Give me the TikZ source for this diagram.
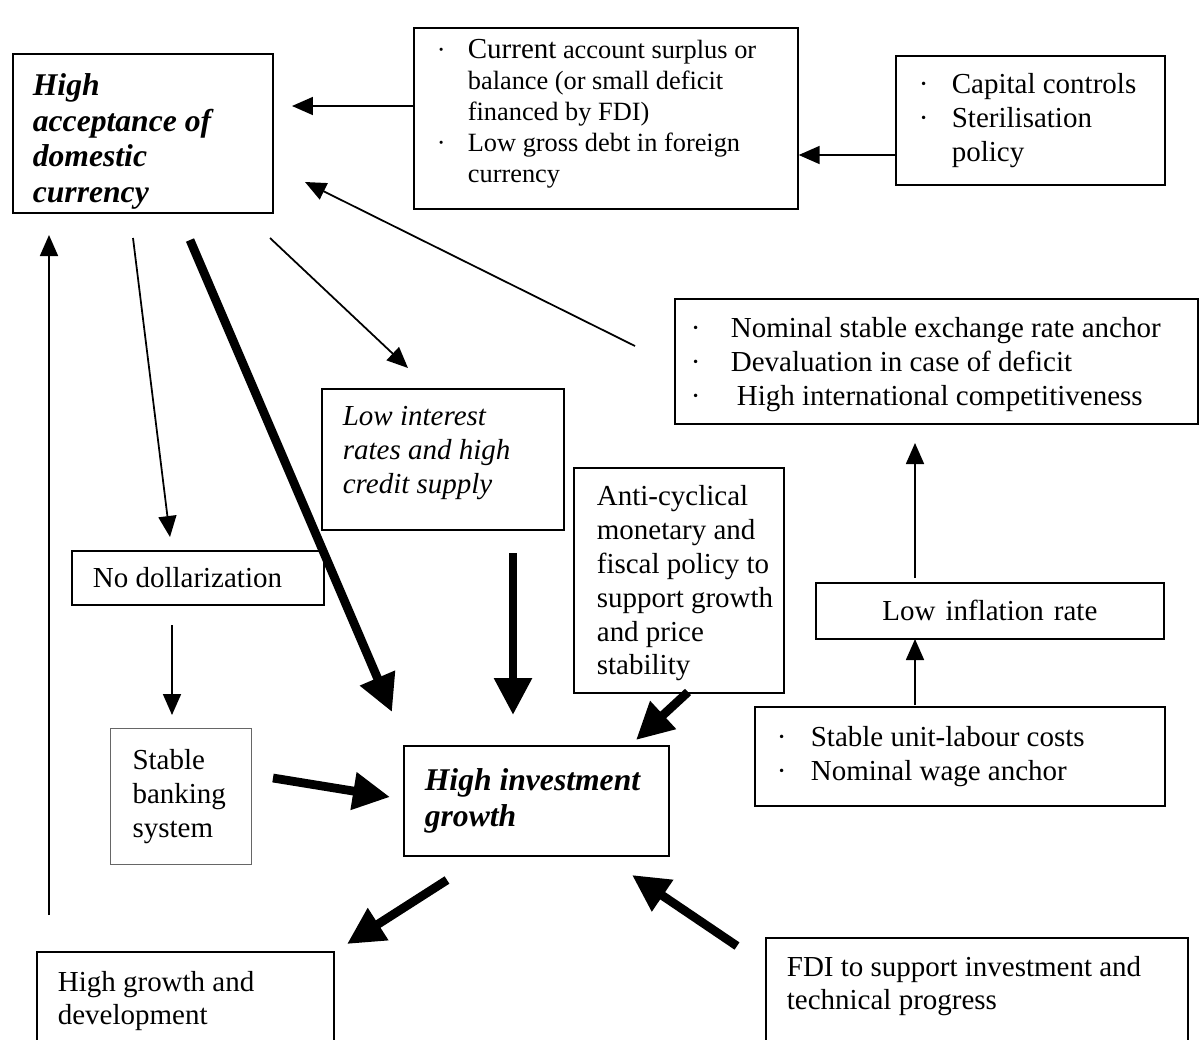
\documentclass[tikz,border=0pt]{standalone}
\usepackage{fontspec}
\setmainfont{Liberation Serif}
\usetikzlibrary{arrows.meta}
\newcommand{\bul}[1]{\makebox[#1][l]{·}}
\newcommand{\headfont}{\fontsize{18}{20.4}\selectfont\bfseries\itshape}
\tikzset{
  box/.style={draw, line width=1pt, anchor=north west, align=left, inner ysep=0pt, inner xsep=.42cm,
    execute at begin node={\spaceskip=0pt\xspaceskip=0pt\relax}},
  openbox/.style={box, text depth=3cm},
  thinflow/.style={-{Triangle[length=.42cm,width=.36cm]}, line width=1pt},
  thickflow/.style={-{Triangle[length=.74cm,width=.72cm]}, line width=5pt},
}
\begin{document}
\begin{tikzpicture}[x=.02cm, y=-.02cm, font=\fontsize{16.5}{19.3}\selectfont]
  \useasboundingbox (0,0) rectangle (1200,1039);
  \clip (0,0) rectangle (1200,1039);

  % boxes
  \node[box, text width=4.4cm, inner xsep=.4cm, minimum height=3.18cm, text height=21.7pt, font=\headfont] (accept) at (12,53)
    {High\\acceptance of\\domestic\\currency};
  \node[box, text width=6.76cm, inner xsep=.46cm, minimum height=3.62cm, text height=6pt, font=\fontsize{15}{17.6}\selectfont] (current) at (413,27)
    {\bul{.62cm}{\fontsize{16.5}{17.6}\selectfont Current} account surplus or\\
     \hspace*{.62cm}balance (or small deficit\\
     \hspace*{.62cm}financed by FDI)\\
     \bul{.62cm}Low gross debt in foreign\\
     \hspace*{.62cm}currency};
  \node[box, text width=4.46cm, inner xsep=.46cm, minimum height=2.58cm] (controls) at (895,55)
    {\bul{.66cm}Capital controls\\\bul{.66cm}Sterilisation\\\hspace*{.66cm}policy};
  \node[box, text width=9.82cm, inner xsep=.32cm, minimum height=2.5cm, text height=14.7pt] (anchor) at (674,298)
    {\bul{.8cm}Nominal stable exchange rate anchor\\
     \bul{.8cm}Devaluation in case of deficit\\
     \bul{.92cm}High international competitiveness};
  \node[box, text width=4cm, text height=21pt, text depth=59.5pt, font=\fontsize{16.5}{19.3}\selectfont\itshape] (credit) at (321,388)
    {Low interest\\rates and high\\credit supply};
  \node[box, text width=3.28cm, inner xsep=.46cm, minimum height=4.5cm, text height=14.7pt] (policy) at (573,467)
    {\mbox{Anti-cyclical}\\\mbox{monetary and}\\\mbox{fiscal policy to}\\\mbox{support growth}\\\mbox{and price}\\\mbox{stability}};
  \node[box, text width=4.2cm, minimum height=1.08cm] (nodollar) at (71,550) {No dollarization};
  \node[box, text width=1.94cm, inner xsep=.44cm, minimum height=2.72cm, draw=black!60, line width=.6pt] (banking) at (110,728)
    {Stable\\banking\\system};
  \node[box, text width=4.46cm, minimum height=2.2cm, font=\headfont] (invest) at (403,745)
    {High investment\\growth};
  \node[box, text width=6.12cm, minimum height=1.12cm, align=center] (inflation) at (815,582) {Low inflation rate};
  \node[box, text width=7.32cm, inner xsep=.44cm, minimum height=1.98cm] (ulc) at (754,706)
    {\bul{.68cm}Stable unit-labour costs\\\bul{.68cm}Nominal wage anchor};
  \node[openbox, text width=5.1cm, inner ysep=.38cm] (growth) at (36,951) {High growth and\\development};
  \node[openbox, text width=7.6cm, inner ysep=.36cm] (fdi) at (765,937) {FDI to support investment and\\technical progress};

  % free ends
  \coordinate (accept-r) at (292,106);
  \coordinate (accept-br) at (305,182);
  \coordinate (anchor-w) at (635,346);
  \coordinate (accept-s1) at (133,238);
  \coordinate (accept-s2) at (190,240);
  \coordinate (accept-s3) at (270,238);
  \coordinate (accept-s4) at (49,235);
  \coordinate (growth-up) at (49,915);
  \coordinate (nodollar-n) at (170,537);
  \coordinate (nodollar-s) at (172,625);
  \coordinate (banking-n) at (172,715);
  \coordinate (banking-e) at (273,778);
  \coordinate (credit-se) at (408,368);
  \coordinate (credit-s) at (513,553);
  \coordinate (invest-nw) at (392,712);
  \coordinate (invest-n) at (513,715);
  \coordinate (invest-ne) at (636,740);
  \coordinate (invest-w) at (390,797);
  \coordinate (invest-sw) at (447,880);
  \coordinate (invest-se) at (632,875);
  \coordinate (growth-ne) at (347,944);
  \coordinate (fdi-nw) at (737,946);
  \coordinate (policy-s) at (688,692);
  \coordinate (ulc-n) at (915,705);
  \coordinate (inflation-s) at (915,639);
  \coordinate (inflation-n) at (915,578);
  \coordinate (anchor-s) at (915,443);

  % links
  \draw[thinflow] (current.west |- accept-r) -- (accept-r);
  \draw[thinflow] (controls.west |- 0,155) -- (current.east |- 0,155);
  \draw[thinflow] (anchor-w) -- (accept-br);
  \draw[thinflow] (accept-s1) -- (nodollar-n);
  \draw[thickflow] (accept-s2) -- (invest-nw);
  \draw[thinflow] (accept-s3) -- (credit-se);
  \draw[thickflow] (credit-s) -- (invest-n);
  \draw[thickflow] (policy-s) -- (invest-ne);
  \draw[thinflow] (nodollar-s) -- (banking-n);
  \draw[thickflow] (banking-e) -- (invest-w);
  \draw[thickflow] (invest-sw) -- (growth-ne);
  \draw[thickflow] (fdi-nw) -- (invest-se);
  \draw[thinflow] (ulc-n) -- (inflation-s);
  \draw[thinflow] (inflation-n) -- (anchor-s);
  \draw[thinflow] (growth-up) -- (accept-s4);
\end{tikzpicture}
\end{document}
